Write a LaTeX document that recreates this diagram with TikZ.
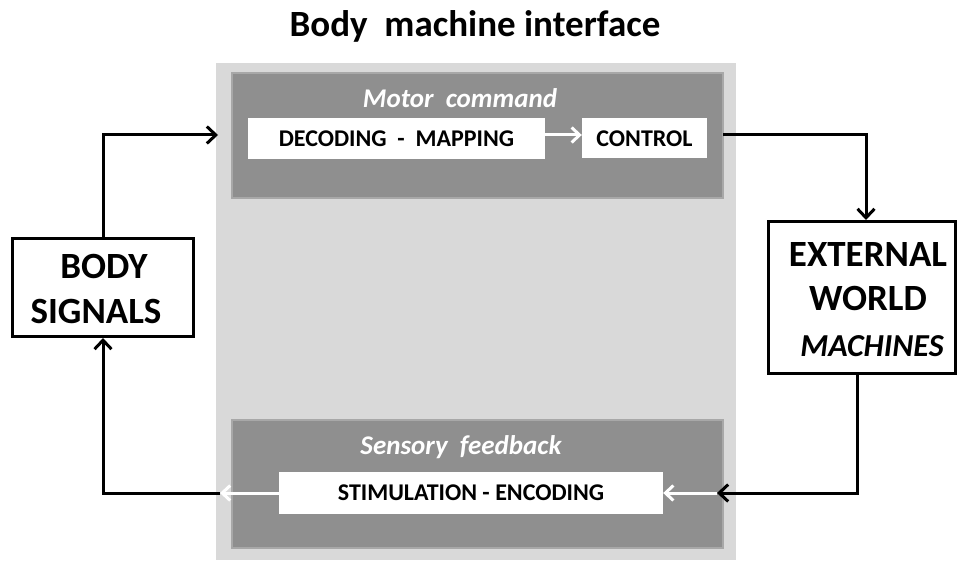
\documentclass[tikz,border=0pt]{standalone}
\usepackage{fontspec}
\setmainfont{Carlito}
\usetikzlibrary{arrows.meta}
\definecolor{panelbg}{RGB}{217,217,217}
\definecolor{subpanel}{RGB}{143,143,143}
\definecolor{subedge}{RGB}{168,168,168}
\begin{document}
\begin{tikzpicture}[x=1pt,y=-1pt,
  bigpanel/.style={fill=panelbg, draw=none, inner sep=0pt, minimum width=520pt, minimum height=497pt},
  subbox/.style={fill=subpanel, draw=subedge, line width=2pt, inner sep=0pt, minimum width=491pt},
  whitebox/.style={fill=white, draw=none, inner sep=0pt, text height=15.5pt, text depth=0pt, font=\fontsize{24}{28}\selectfont\bfseries},
  blackbox/.style={fill=white, draw=black, line width=3pt, inner sep=0pt, align=center},
  blk/.style={draw=black, line width=3pt, -{Straight Barb[length=9pt,width=17pt,line width=3pt]}},
  wht/.style={draw=white, line width=3pt, -{Straight Barb[length=8pt,width=15pt,line width=3pt]}},
  ttl/.style={font=\fontsize{37}{44}\selectfont\bfseries, inner sep=0pt},
  subttl/.style={text=white, font=\fontsize{27}{30}\selectfont\bfseries\itshape, inner sep=0pt}
]
\useasboundingbox (0,0) rectangle (958,561);
\fill[white] (0,0) rectangle (958,561);

\node[ttl, anchor=base] (title) at (475,37) {Body\ \ machine interface};

\node[bigpanel] (bmi) at (476,311.5) {};
\node[subbox, minimum height=125pt] (motor) at (477.5,135.5) {};
\node[subbox, minimum height=128pt] (sensory) at (477.5,484) {};

\node[subttl, anchor=base] (motorlbl) at (460,108) {Motor\ \ command};
\node[subttl, anchor=base] (sensorylbl) at (461,454) {Sensory\ \ feedback};

\node[whitebox, minimum width=297pt, minimum height=41pt] (decoding) at (396.5,138.5) {DECODING\ \ -\ \ MAPPING};
\node[whitebox, minimum width=125pt, minimum height=40pt] (control) at (644.5,138.5) {CONTROL};
\node[whitebox, minimum width=384pt, minimum height=42pt] (stim) at (471,493) {STIMULATION - ENCODING};

\node[blackbox, minimum width=181pt, minimum height=98pt] (body) at (103,287.5) {};
\node[font=\fontsize{37}{45}\selectfont\bfseries, align=center, inner sep=0pt]
      (bodytxt) at (104,289) {BODY\\SIGNALS\hspace*{16pt}};
\node[blackbox, minimum width=187pt, minimum height=152pt] (external) at (862,297.5) {};
\node[font=\fontsize{37}{44}\selectfont\bfseries, align=center, inner sep=0pt]
      (exttxt) at (868,300) {EXTERNAL\\WORLD\\[2pt]\hspace*{8pt}{\fontsize{32}{32}\selectfont\itshape MACHINES}};

\coordinate (minput) at (218,135);
\coordinate (coutput) at (723,135);
\coordinate (extdown) at (857,373.5);
\coordinate (sinput) at (717,493);
\coordinate (soutput) at (220,493);

\draw[blk] (body.north) |- (minput);
\draw[blk] (coutput) -| ([xshift=4pt]external.north);
\draw[blk] (extdown) |- (sinput);
\draw[blk] (soutput) -| (body.south);

\draw[wht] (decoding.east |- minput) -- (control.west |- minput);
\draw[wht] (sinput) -- (stim.east);
\draw[wht] (stim.west) -- (soutput);
\end{tikzpicture}
\end{document}
